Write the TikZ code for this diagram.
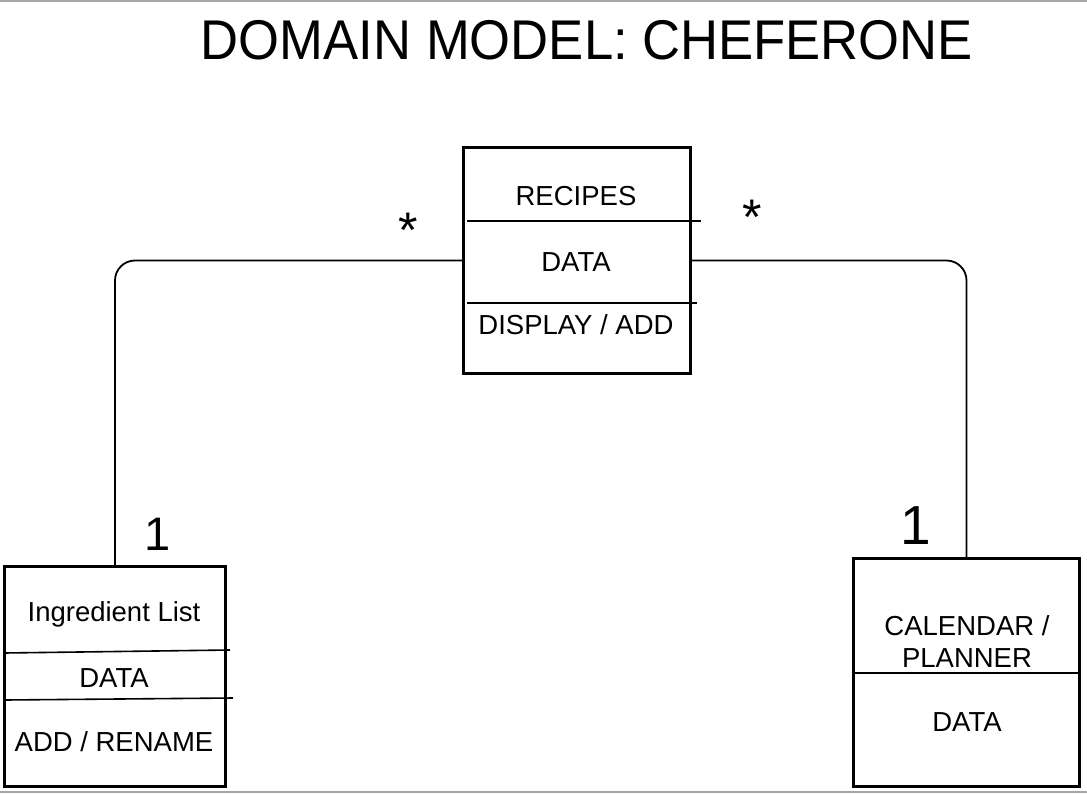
\documentclass[tikz,border=0pt]{standalone}
\usepackage{fontspec}
\setmainfont{Liberation Sans}
\begin{document}
\begin{tikzpicture}[x=1pt,y=-1pt,
  classbox/.style={draw=black,line width=3.2pt,rectangle,inner sep=0pt},
  divider/.style={line width=2.4pt},
  thindiv/.style={line width=1.6pt},
  conn/.style={line width=1.8pt,rounded corners=20pt},
  lbl/.style={font=\fontsize{27.5}{32}\selectfont,inner sep=0pt,anchor=center},
  mult/.style={font=\fontsize{47}{50}\selectfont,inner sep=0pt},
  star/.style={font=\fontsize{50}{50}\selectfont,inner sep=0pt},
  frame/.style={draw=black!35,line width=1.5pt}]
\useasboundingbox (0,0) rectangle (1087,793);
\fill[white] (0,0) rectangle (1087,793);
\draw[frame] (0,1) -- (1087,1);
\draw[frame] (0,792) -- (1087,792);
% title
\node[inner sep=0pt] (title) at (587,40) {\scalebox{0.94}[1]{\fontsize{56}{60}\selectfont DOMAIN MODEL: CHEFERONE}};
% boxes
\node[classbox,minimum width=227pt,minimum height=226pt] (rec) at (577,260.5) {};
\node[classbox,minimum width=221pt,minimum height=220pt] (ing) at (115,676.5) {};
\node[classbox,minimum width=226pt,minimum height=228pt] (cal) at (966.5,672.5) {};
% dividers
\draw[divider] (467,221) -- (701,221);
\draw[divider] (467,303) -- (697,303);
\draw[thindiv] (4,653) -- (230,650);
\draw[thindiv] (4,700) -- (233,698);
\draw[divider] (853,673) -- (1080,673);
% texts
\node[lbl] (t1) at (576,196) {RECIPES};
\node[lbl] (t2) at (576,262) {DATA};
\node[lbl] (t3) at (576,325) {DISPLAY / ADD};
\node[lbl] (t4) at (114,614) {Ingredient List};
\node[lbl] (t5) at (114,678) {DATA};
\node[lbl] (t6) at (114,742) {ADD / RENAME};
\node[lbl,align=center] (t7) at (967,642) {CALENDAR /\\PLANNER};
\node[lbl] (t8) at (967,722) {DATA};
% connectors
\draw[conn] (rec.west) -| (ing.north);
\draw[conn] (rec.east) -| (cal.north);
% multiplicities
\node[star] (s1) at (408,230) {*};
\node[star] (s2) at (752,217) {*};
\node[mult] (m1) at (158,534) {1};
\node[mult,font=\fontsize{55}{58}\selectfont] (m2) at (916,526) {1};
\end{tikzpicture}
\end{document}
